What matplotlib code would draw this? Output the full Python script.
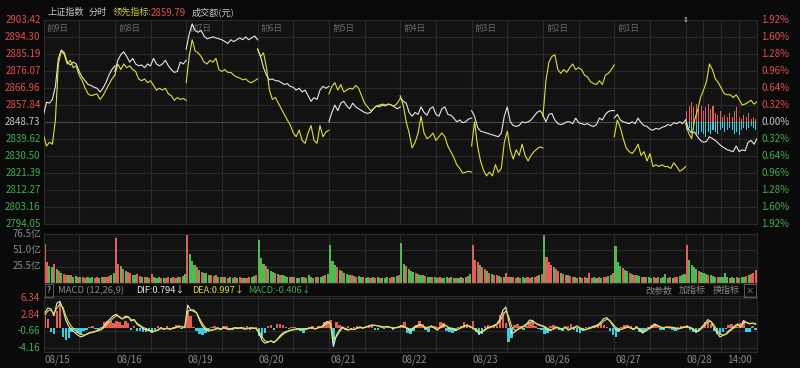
import matplotlib
matplotlib.use("Agg")
import matplotlib.pyplot as plt

plt.rcParams['font.family'] = ['Noto Sans CJK SC', 'DejaVu Sans']

# ---------------- data ----------------
PREV_CLOSE = 2848.73
price_ticks = [2903.42, 2894.30, 2885.19, 2876.07, 2866.96, 2857.84, 2848.73,
               2839.62, 2830.50, 2821.39, 2812.27, 2803.16, 2794.05]
day_names = ["前9日", "前8日", "前7日", "前6日", "前5日", "前4日", "前3日", "前2日", "前1日", ""]
dates = ["08/15", "08/16", "08/19", "08/20", "08/21", "08/22", "08/23", "08/26", "08/27", "08/28"]
vol_ticks = [25.5, 51.0, 76.5]
macd_ticks = [6.34, 2.84, -0.66, -4.16]

# 上证指数, 25 points per day (every 10 min)
sh_index = [
    2852.6, 2859.5, 2859.0, 2861.0, 2868.0, 2883.0, 2887.5, 2886.0, 2881.0, 2879.5, 2881.0, 2880.0, 2876.0,
    2873.0, 2871.0, 2869.0, 2868.5, 2867.5, 2867.0, 2865.0, 2867.0, 2870.0, 2874.0, 2877.0, 2879.0,
    2876.0, 2882.0, 2885.0, 2886.5, 2884.0, 2881.0, 2883.0, 2880.0, 2879.0, 2879.5, 2878.0, 2880.0, 2879.0,
    2883.0, 2880.0, 2879.0, 2880.0, 2882.0, 2879.0, 2877.0, 2875.5, 2876.0, 2881.0, 2880.0, 2882.0,
    2888.0, 2896.0, 2901.5, 2898.0, 2897.0, 2898.0, 2895.0, 2893.5, 2894.0, 2894.5, 2894.0, 2893.5, 2893.0,
    2892.0, 2891.0, 2893.0, 2892.0, 2893.0, 2894.0, 2893.0, 2894.5, 2893.0, 2894.0, 2895.0, 2893.0,
    2888.0, 2884.0, 2878.0, 2874.0, 2871.5, 2872.0, 2871.0, 2871.0, 2870.0, 2869.0, 2869.5, 2868.0, 2867.5,
    2866.0, 2867.0, 2865.0, 2866.0, 2863.0, 2860.0, 2862.0, 2861.0, 2866.0, 2868.0, 2867.0, 2868.0,
    2849.0, 2854.0, 2858.0, 2855.0, 2859.0, 2860.0, 2857.5, 2856.0, 2859.0, 2857.0, 2856.0, 2855.0, 2854.0,
    2853.5, 2854.0, 2856.0, 2857.5, 2857.0, 2858.0, 2857.5, 2858.5, 2858.0, 2857.0, 2856.0, 2857.0,
    2862.0, 2860.0, 2859.0, 2854.0, 2852.0, 2854.0, 2853.0, 2857.0, 2854.0, 2852.5, 2856.0, 2857.0, 2853.0,
    2852.0, 2856.0, 2857.0, 2853.0, 2852.5, 2851.0, 2849.0, 2850.0, 2848.5, 2849.0, 2850.5, 2851.0,
    2855.0, 2852.0, 2846.0, 2844.0, 2843.5, 2843.0, 2842.5, 2842.0, 2841.5, 2841.0, 2843.0, 2852.0, 2857.0,
    2849.0, 2847.0, 2846.5, 2847.0, 2849.0, 2848.5, 2849.0, 2850.0, 2852.0, 2854.0, 2855.0, 2853.0,
    2852.5, 2849.0, 2853.0, 2853.5, 2850.0, 2848.0, 2847.5, 2848.0, 2849.0, 2849.0, 2848.0, 2851.0, 2848.5,
    2848.0, 2847.5, 2848.0, 2847.0, 2846.5, 2847.5, 2851.0, 2850.0, 2853.0, 2854.5, 2855.0, 2855.0,
    2851.0, 2853.0, 2850.0, 2849.0, 2848.5, 2848.0, 2849.0, 2848.0, 2851.0, 2848.5, 2847.0, 2846.5, 2845.0,
    2844.5, 2845.5, 2845.0, 2846.0, 2846.5, 2847.5, 2847.0, 2848.5, 2848.0, 2849.0, 2848.0, 2850.0,
    2850.0, 2845.0, 2843.0, 2843.5, 2841.0, 2839.0, 2838.0, 2838.5, 2841.0, 2840.0, 2839.0, 2837.5, 2836.0,
    2835.0, 2834.0, 2833.5, 2833.0, 2836.0, 2833.0, 2834.0, 2833.5, 2838.0, 2839.0, 2837.0, 2840.0,
]

# 领先指标, same layout
lead_index = [
    2842.0, 2836.0, 2838.0, 2837.0, 2850.0, 2880.0, 2887.0, 2885.0, 2880.0, 2882.0, 2878.0, 2879.0, 2874.0,
    2871.0, 2867.0, 2864.0, 2863.0, 2863.5, 2864.0, 2861.0, 2863.0, 2866.0, 2869.0, 2872.0, 2874.0,
    2874.0, 2880.0, 2877.0, 2880.0, 2878.0, 2879.0, 2877.0, 2876.0, 2872.0, 2871.0, 2872.0, 2870.0, 2871.0,
    2868.5, 2866.0, 2867.0, 2866.0, 2867.0, 2864.0, 2863.0, 2860.5, 2862.0, 2861.0, 2861.5, 2860.5,
    2870.0, 2884.0, 2893.0, 2887.0, 2886.0, 2884.0, 2881.0, 2880.0, 2882.0, 2881.0, 2883.0, 2877.0, 2876.0,
    2877.0, 2875.5, 2875.5, 2874.0, 2873.0, 2872.5, 2871.5, 2872.0, 2870.5, 2870.0, 2871.0, 2872.0,
    2888.0, 2884.0, 2886.0, 2878.0, 2866.0, 2861.0, 2862.0, 2859.0, 2856.0, 2853.0, 2850.0, 2847.3, 2843.0,
    2841.0, 2844.6, 2839.0, 2837.5, 2843.0, 2847.0, 2839.0, 2837.5, 2847.0, 2841.0, 2843.5, 2844.5,
    2864.0, 2868.0, 2870.0, 2866.0, 2869.0, 2865.0, 2866.0, 2867.0, 2866.5, 2868.5, 2867.0, 2863.0, 2859.0,
    2857.0, 2855.0, 2856.0, 2857.5, 2858.0, 2858.5, 2858.0, 2858.5, 2858.0, 2857.5, 2859.0, 2861.5,
    2863.0, 2858.0, 2849.0, 2843.0, 2835.0, 2838.0, 2843.0, 2852.0, 2843.0, 2840.0, 2841.0, 2843.0, 2839.0,
    2841.0, 2843.0, 2841.0, 2836.0, 2833.0, 2830.0, 2826.0, 2824.0, 2821.5, 2822.0, 2822.5, 2822.0,
    2836.0, 2849.0, 2836.0, 2828.0, 2823.0, 2820.0, 2822.0, 2820.0, 2826.0, 2822.0, 2824.0, 2838.0, 2844.0,
    2834.0, 2829.0, 2834.0, 2831.0, 2837.0, 2831.0, 2828.0, 2831.0, 2833.0, 2834.5, 2835.5, 2835.0,
    2852.0, 2871.0, 2881.0, 2884.0, 2885.0, 2877.0, 2875.0, 2877.0, 2875.5, 2878.0, 2880.0, 2877.0, 2878.0,
    2877.0, 2874.0, 2873.0, 2870.5, 2869.5, 2869.0, 2871.0, 2869.0, 2874.0, 2875.0, 2877.0, 2879.5,
    2841.0, 2850.0, 2846.0, 2840.0, 2835.0, 2833.0, 2832.0, 2834.0, 2837.0, 2831.0, 2833.0, 2828.0, 2832.0,
    2825.0, 2826.0, 2825.0, 2826.0, 2825.0, 2825.0, 2824.0, 2827.0, 2825.0, 2822.5, 2823.5, 2825.0,
    2848.0, 2843.0, 2840.0, 2850.0, 2855.0, 2862.0, 2866.0, 2870.5, 2880.0, 2877.0, 2872.0, 2870.0, 2867.0,
    2864.0, 2863.5, 2863.5, 2862.0, 2863.5, 2861.0, 2858.0, 2858.5, 2859.5, 2860.5, 2858.5, 2859.79,
]

# today's up / down strength bars around the previous close (index points)
today_buy = [6, 9, 11, 8, 10, 7, 9, 6, 8, 10, 7, 9, 5, 4, 6, 3, 4, 3, 5, 3, 6, 8, 3, 2, 4, 3, 5, 2, 3, 2]
today_sell = [4, 3, 5, 4, 6, 7, 5, 6, 8, 5, 6, 4, 5, 6, 4, 3, 5, 4, 3, 4, 6, 5, 7, 4, 3, 4, 3, 2, 3, 4]

# 成交额 (亿), 30 bars per day
volume = [
    60, 32, 27, 24, 29, 21, 18, 16, 14, 13, 12, 13, 10, 11, 9, 10, 9, 8, 9, 8, 10, 8, 9, 8, 9, 10, 9, 11, 12, 15,
    69, 30, 26, 22, 19, 17, 15, 13, 12, 14, 11, 10, 9, 10, 8, 14, 9, 8, 9, 8, 7, 8, 9, 8, 9, 8, 9, 10, 11, 14,
    74, 45, 34, 28, 24, 20, 17, 15, 16, 13, 12, 11, 12, 10, 9, 10, 9, 8, 9, 8, 9, 8, 9, 8, 7, 8, 9, 9, 11, 13,
    66, 38, 30, 26, 22, 19, 17, 15, 14, 12, 13, 11, 10, 9, 10, 9, 8, 8, 9, 10, 8, 12, 9, 8, 9, 10, 9, 11, 12, 14,
    59, 34, 28, 24, 20, 18, 16, 14, 13, 12, 11, 10, 11, 9, 10, 8, 9, 8, 9, 8, 9, 8, 7, 8, 9, 8, 9, 10, 11, 13,
    62, 30, 26, 22, 19, 17, 15, 14, 12, 13, 11, 10, 9, 10, 9, 8, 9, 8, 8, 9, 8, 9, 8, 7, 8, 9, 8, 10, 11, 14,
    59, 36, 32, 28, 24, 21, 18, 16, 14, 13, 12, 11, 10, 9, 16, 9, 10, 9, 8, 9, 8, 9, 8, 9, 8, 9, 10, 11, 12, 14,
    76, 40, 33, 28, 24, 21, 18, 16, 14, 13, 12, 11, 10, 9, 8, 9, 8, 9, 8, 15, 8, 9, 8, 9, 8, 9, 10, 11, 12, 15,
    57, 32, 27, 23, 20, 18, 16, 14, 13, 12, 11, 10, 9, 10, 9, 8, 9, 8, 9, 8, 9, 14, 8, 9, 8, 9, 10, 11, 12, 14,
    59, 35, 28, 24, 21, 19, 17, 15, 14, 13, 12, 11, 10, 9, 10, 9, 16, 9, 8, 9, 8, 9, 8, 9, 10, 11, 12, 14, 16, 20,
]
vol_colors = [
    "rrggrgrgrrgrggrgrrgggrrgrgrrgg",
    "rrgrgrrggrrgrgrrgggrgrrgrrgrgg",
    "rgggrgrgggrrgrgrgrggrgrrgrrggr",
    "gggrgggrgrgggrgrgggrgggrgrggrg",
    "gggrgrgggrgrggrggrgrgrgggrrggr",
    "ggrgggrgggrggrggrgggrggrggrgrg",
    "rrrgrrgrgrrgrgrrgrrgrggrrgrrgr",
    "grrrgrrgrrgrrgrgrrgrrggrgrrggr",
    "gggrggrgrggrgrggrgrggggrgrrggg",
    "rggggrgggrgggrggggrggrgggrgrrr",
]

# MACD (12,26,9), 24 values per day
dif = [
    3.3, 4.2, 4.0, 2.6, 5.2, 5.6, 4.0, 1.7, 0.4, -0.3, -0.9, -1.4, -1.8, -1.6, -1.2, -0.9, -0.8, -0.6, -0.4, -0.1, 0.6, 1.4, 2.0, 2.6,
    2.9, 2.3, 1.9, 2.5, 2.4, 1.5, 1.8, 0.8, 0.4, -0.1, -0.3, -0.5, -0.8, -0.6, -0.3, 0.1, -0.2, 0.0, -0.2, 0.0, 0.2, 0.5, 0.3, 0.1,
    4.8, 3.8, 3.8, 3.2, 1.6, 0.4, -0.3, -0.6, -0.4, -0.2, 0.0, -0.2, 0.1, -0.1, -0.3, 0.0, 0.1, -0.1, 0.2, -0.2, -0.1, 0.1, 0.0, -0.1,
    -1.0, -2.5, -3.1, -2.9, -2.6, -3.0, -2.4, -1.6, -1.0, -0.7, -0.5, -0.3, -0.2, -0.1, -0.3, -0.2, -0.1, 0.0, 0.1, -0.2, 0.2, 0.3, 0.9, 1.4,
    1.0, -3.8, -1.5, -0.4, 0.3, -0.2, -0.4, -0.1, -0.3, 0.1, 0.2, 0.1, 0.3, 0.5, 0.7, 0.6, 0.5, 0.3, 0.2, 0.4, 0.2, 0.0, 0.1, 0.3,
    0.5, 0.2, -0.1, -0.6, 0.2, 0.5, 0.8, 0.5, 0.0, 0.2, 0.5, 0.0, -0.4, 0.2, 0.8, 0.5, -0.1, -0.1, -0.5, -0.2, 0.2, 0.5, 0.6, 0.4,
    -0.1, -0.4, -1.1, -0.8, -0.2, 0.2, 0.3, 0.6, 0.9, 1.9, 3.7, 4.4, 1.5, -1.1, -0.8, -0.2, 0.1, 0.5, 0.9, 1.7, 1.6, 1.0, 0.7, 0.5,
    0.2, -0.3, -0.5, -0.1, 0.3, 0.0, -0.2, 0.3, -0.4, -0.1, 0.2, 0.5, -0.1, -0.4, -0.3, 0.0, 0.3, 0.5, 0.7, 1.3, 2.0, 2.2, 1.5, 0.6,
    -0.3, -0.4, -0.2, 0.1, 0.3, 0.0, -0.2, 0.2, -0.3, -1.0, -0.6, 0.0, 0.3, 0.9, 0.6, 0.2, 0.0, 0.3, 0.1, 0.2, 0.0, -0.2, 0.1, 0.3,
    0.3, 0.2, -0.3, -0.8, -0.5, 0.3, 1.0, 1.8, 1.4, 0.2, -0.9, -1.8, -1.5, -1.2, -0.5, -0.1, 0.5, 0.9, 0.2, 1.6, 1.2, 0.9, 1.1, 0.794,
]
dea = [
    2.8, 3.6, 3.8, 3.0, 4.2, 5.0, 4.4, 2.6, 1.2, 0.3, -0.4, -0.9, -1.3, -1.4, -1.3, -1.0, -0.9, -0.7, -0.5, -0.3, 0.2, 0.9, 1.5, 2.1,
    2.6, 2.4, 2.0, 2.2, 2.3, 1.8, 1.7, 1.0, 0.6, 0.2, -0.1, -0.3, -0.6, -0.6, -0.4, -0.1, -0.1, -0.1, -0.1, -0.1, 0.1, 0.3, 0.3, 0.2,
    3.6, 3.7, 3.5, 3.2, 2.0, 0.9, 0.1, -0.4, -0.4, -0.3, -0.1, -0.1, 0.0, 0.0, -0.2, -0.1, 0.0, 0.0, 0.1, -0.1, -0.1, 0.0, 0.0, 0.0,
    -0.6, -1.8, -2.6, -2.8, -2.7, -2.8, -2.5, -1.9, -1.3, -0.9, -0.6, -0.4, -0.3, -0.2, -0.2, -0.2, -0.1, 0.0, 0.0, -0.1, 0.1, 0.2, 0.6, 1.1,
    1.1, -2.2, -1.8, -0.8, 0.0, 0.0, -0.3, -0.2, -0.2, 0.0, 0.1, 0.1, 0.2, 0.4, 0.5, 0.6, 0.5, 0.4, 0.3, 0.3, 0.2, 0.1, 0.1, 0.2,
    0.4, 0.3, 0.0, -0.4, 0.0, 0.3, 0.6, 0.5, 0.2, 0.2, 0.4, 0.1, -0.2, 0.1, 0.5, 0.5, 0.1, 0.0, -0.3, -0.2, 0.1, 0.4, 0.5, 0.4,
    0.0, -0.2, -0.7, -0.7, -0.4, 0.0, 0.2, 0.4, 0.7, 1.4, 2.6, 3.6, 2.4, 0.3, -0.4, -0.3, 0.0, 0.3, 0.7, 1.2, 1.4, 1.1, 0.8, 0.6,
    0.4, 0.0, -0.3, -0.2, 0.1, 0.0, -0.1, 0.1, -0.2, -0.1, 0.1, 0.3, 0.1, -0.2, -0.2, -0.1, 0.1, 0.3, 0.5, 0.9, 1.5, 1.9, 1.6, 0.9,
    0.2, -0.2, -0.2, 0.0, 0.2, 0.1, -0.1, 0.1, -0.1, -0.6, -0.6, -0.2, 0.1, 0.6, 0.6, 0.3, 0.1, 0.2, 0.1, 0.2, 0.1, -0.1, 0.0, 0.2,
    0.2, 0.2, -0.1, -0.5, -0.5, 0.0, 0.6, 1.3, 1.4, 0.7, -0.3, -1.2, -1.4, -1.3, -0.8, -0.3, 0.2, 0.6, 0.4, 1.1, 1.2, 1.0, 1.0, 0.997,
]
macd_hist = [
    2.5, 2.0, -0.8, -1.2, 3.5, 5.5, -1.8, -2.4, -2.0, -0.8, -0.4, -1.0, -1.2, -0.6, -0.3, 0.3, 0.5, -0.2, -0.4, 0.2, 1.2, 1.5, 1.4, 1.0,
    1.5, 1.2, 0.6, 1.4, 1.0, -0.3, 0.5, -0.5, -0.6, -0.8, -0.7, -0.5, -0.9, -0.3, 0.4, 0.3, -0.4, 0.5, -0.3, 0.3, 0.6, 0.4, -0.2, 0.3,
    3.5, 2.5, 0.3, -0.6, -1.2, -1.3, -1.0, -0.5, 0.2, 0.4, 0.3, -0.3, 0.5, 0.4, -0.2, -0.4, 0.3, 0.2, -0.2, 0.3, 0.4, -0.3, 0.2, 0.3,
    -1.6, -2.0, -1.0, 0.4, 0.6, -0.4, 0.8, 0.9, 0.6, 0.3, -0.2, 0.3, 0.2, -0.3, -0.6, -0.9, -0.3, 0.2, 0.4, -0.2, 0.4, 0.3, 1.2, 1.5,
    1.8, -3.0, 1.2, 0.6, 0.2, -0.4, 0.4, -0.3, 0.3, 0.5, 0.4, -0.2, 0.3, 0.4, 0.5, -0.3, -0.4, 0.3, -0.2, 0.3, 0.2, -0.3, 0.3, 0.2,
    0.6, 1.2, -1.0, -1.1, -0.5, 0.7, 1.4, 0.8, -0.4, -0.7, 0.3, 0.5, 0.2, 1.2, 1.0, -0.6, -0.8, -0.9, -0.5, 0.3, 0.5, 1.3, 0.8, 0.4,
    1.6, -0.8, -1.5, -1.2, 0.5, 0.6, 0.5, 0.7, 0.4, 2.8, 3.4, 1.0, -2.9, -2.0, 0.6, 0.9, 0.4, -0.3, 0.5, 1.2, 1.4, 0.5, -0.2, -0.4,
    -1.2, -1.0, 0.4, 0.6, 0.3, -0.4, -0.6, 0.2, 0.5, 0.8, -0.3, -0.8, -0.9, -0.5, 0.2, 0.3, 0.1, 0.4, 0.9, 1.0, 0.6, 0.2, -0.5, -1.5,
    -1.9, -0.8, 0.3, 0.6, 0.7, 0.4, -0.3, 0.4, -0.8, -1.0, -0.5, 0.3, 0.6, 0.9, 0.5, -0.3, -0.4, 0.3, 0.4, -0.3, -0.5, 0.2, 0.4, 0.5,
    0.6, -0.3, -0.8, -1.0, -0.6, 0.4, 1.3, 1.6, 0.8, -0.5, -1.2, -1.5, -0.8, -0.2, 0.6, 0.8, 0.3, 0.2, 1.0, 1.4, -0.7, -0.8, 0.5, -0.406,
]

# ---------------- style ----------------
BG = '#0a0a0a'
PANEL = '#121212'
GRID = '#2a2a2a'
MIDLINE = '#4a4a4a'
TXT = '#c4c4c4'
DIM = '#8a8a8a'
RED = '#e0504b'
GREEN = '#3fae49'
WHITE = '#e6e6e6'
YELLOW = '#dede3c'
RED_BAR = '#e0605a'
GREEN_BAR = '#52b852'
CYAN = '#38d0e0'

W, H = 800, 368
L, R = 43.5, 757
DAY = 240
NDAY = 10
PPD = 25          # price points per day
VPD = 30          # volume bars per day
MPD = 24          # macd points per day

fig = plt.figure(figsize=(W / 100, H / 100), dpi=100, facecolor=BG)


def panel(top, bottom):
    a = fig.add_axes([L / W, 1 - bottom / H, (R - L) / W, (bottom - top) / H])
    a.set_facecolor(PANEL)
    a.set_xlim(0, NDAY * DAY)
    a.set_xticks([])
    a.set_yticks([])
    for s in a.spines.values():
        s.set_color(GRID)
        s.set_linewidth(0.8)
    for d in range(NDAY):
        a.axvline(d * DAY, color=GRID, lw=0.8, zorder=0)
        for m in ([60, 120, 180] if d == NDAY - 1 else [120]):
            a.axvline(d * DAY + m, color=GRID, lw=0.8, zorder=0)
    return a


def ftext(x, y, s, **kw):
    fig.text(x / W, 1 - y / H, s, va='center', **kw)


# ---------------- price panel ----------------
ax = panel(20.3, 224.3)
ax.set_ylim(price_ticks[-1], price_ticks[0])
ylab = ax.get_yaxis_transform()
for p in price_ticks:
    ax.axhline(p, color=MIDLINE if p == PREV_CLOSE else GRID, lw=0.8, zorder=0)
    col = RED if p > PREV_CLOSE else (GREEN if p < PREV_CLOSE else TXT)
    ax.text(-0.004, p, f"{p:.2f}", transform=ylab, ha='right', va='center', color=col, fontsize=7)
    pct = abs(p / PREV_CLOSE - 1) * 100
    ax.text(1.006, p, f"{pct:.2f}%", transform=ylab, ha='left', va='center', color=col, fontsize=7)

xlab = ax.get_xaxis_transform()
for d, name in enumerate(day_names):
    ax.text(d * DAY + 11, 0.962, name, transform=xlab, ha='left', va='center', color='#6a6a6a', fontsize=6.2, zorder=1)

step = DAY / (PPD - 1)
for d in range(NDAY):
    xs = [d * DAY + i * step for i in range(PPD)]
    ax.plot(xs, sh_index[d * PPD:(d + 1) * PPD], color=WHITE, lw=0.8, zorder=3)
    ax.plot(xs, lead_index[d * PPD:(d + 1) * PPD], color=YELLOW, lw=0.8, zorder=4)

tx = [(NDAY - 1) * DAY + (k + 0.5) * DAY / len(today_buy) for k in range(len(today_buy))]
ax.bar(tx, today_buy, bottom=PREV_CLOSE, width=3.5, color=RED_BAR, lw=0, zorder=2)
ax.bar(tx, [-v for v in today_sell], bottom=PREV_CLOSE, width=3.5, color=CYAN, lw=0, zorder=2)
ax.text((NDAY - 1) * DAY, 1.0, "⇕", transform=xlab, ha='center', va='center', color='#cfcfcf',
        fontsize=5, family='DejaVu Sans')

# ---------------- volume panel ----------------
axv = panel(233.5, 283)
axv.set_ylim(0, 76.5)
for v in vol_ticks:
    axv.axhline(v, color=GRID, lw=0.8, zorder=0)
    axv.text(-0.003, v, f"{v:.1f}亿", transform=axv.get_yaxis_transform(), ha='right', va='center',
             color=DIM, fontsize=7)
for d in range(NDAY):
    xs = [d * DAY + (k + 0.5) * DAY / VPD for k in range(VPD)]
    cols = [RED_BAR if c == 'r' else GREEN_BAR for c in vol_colors[d]]
    axv.bar(xs, volume[d * VPD:(d + 1) * VPD], width=7, color=cols, lw=0, zorder=2)

# ---------------- MACD panel ----------------
axm = panel(296, 352)
axm.set_ylim(-4.93, 6.69)
for v in macd_ticks:
    axm.axhline(v, color=GRID, lw=0.8, zorder=0)
    axm.text(-0.005, v, f"{v:.2f}", transform=axm.get_yaxis_transform(), ha='right', va='center',
             color=RED if v > 0 else GREEN, fontsize=7)
mx = [d * DAY + (i + 0.5) * DAY / MPD for d in range(NDAY) for i in range(MPD)]
axm.bar(mx, macd_hist, width=8.5, color=[RED_BAR if h > 0 else CYAN for h in macd_hist], lw=0, zorder=2)
axm.plot(mx, dif, color=WHITE, lw=0.8, zorder=3)
axm.plot(mx, dea, color=YELLOW, lw=0.8, zorder=4)

mxl = axm.get_xaxis_transform()
for d, s in enumerate(dates):
    axm.text(d * DAY + 4, -0.145, s, transform=mxl, ha='left', va='center', color=DIM, fontsize=7)
axm.text((NDAY - 1) * DAY + 180, -0.145, "14:00", transform=mxl, ha='center', va='center', color=DIM, fontsize=7)

# ---------------- header texts ----------------
ftext(48, 12.5, "上证指数", color=TXT, fontsize=6.6)
ftext(89, 12.5, "分时", color=TXT, fontsize=6.6)
ftext(113, 12.5, "领先指标:", color='#c8c450', fontsize=6.6)
ftext(151, 12.5, "2859.79", color=RED, fontsize=7)
ftext(192, 12.5, "成交额(元)", color=TXT, fontsize=6.6)

box = dict(boxstyle='square,pad=0.25', fc='none', ec='#5a5a5a', lw=0.7)
ftext(47, 290.5, "?", color=TXT, fontsize=6, bbox=box)
ftext(58, 290.5, "MACD (12,26,9)", color=DIM, fontsize=6.8)
ftext(136, 290.5, "DIF:0.794↓", color=WHITE, fontsize=6.6)
ftext(192, 290.5, "DEA:0.997↓", color=YELLOW, fontsize=6.6)
ftext(248, 290.5, "MACD:-0.406↓", color=GREEN, fontsize=6.6)
ftext(645, 290.5, "改参数", color=DIM, fontsize=6.5)
ftext(679, 290.5, "加指标", color=DIM, fontsize=6.5)
ftext(713, 290.5, "换指标", color=DIM, fontsize=6.5)
ftext(746, 290.5, "×", color=DIM, fontsize=6, bbox=box)

fig.savefig("out.png", dpi=100, facecolor=BG)
